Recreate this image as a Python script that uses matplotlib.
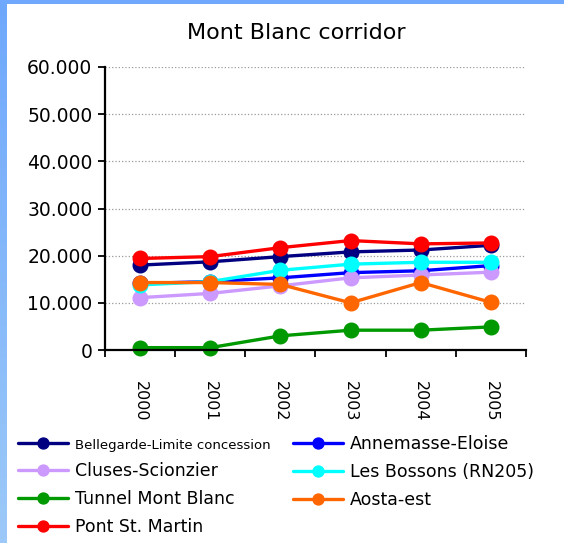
import numpy as np
import matplotlib
matplotlib.use("Agg")
import matplotlib.pyplot as plt
from matplotlib.ticker import FuncFormatter, FixedLocator

years = ["2000", "2001", "2002", "2003", "2004", "2005"]

bellegarde = [18000, 18700, 19800, 20800, 21200, 22200]
annemasse = [14100, 14500, 15300, 16400, 16800, 17900]
cluses = [11100, 12000, 13600, 15300, 15900, 16500]
bossons = [13800, 14500, 16900, 18200, 18600, 18600]
tunnel = [500, 500, 3000, 4200, 4200, 4900]
aosta = [14300, 14300, 13900, 10000, 14300, 10100]
pont = [19400, 19800, 21700, 23200, 22500, 22700]

names = ["Bellegarde-Limite concession", "Annemasse-Eloise", "Cluses-Scionzier",
         "Les Bossons (RN205)", "Tunnel Mont Blanc", "Aosta-est", "Pont St. Martin"]
series = [bellegarde, annemasse, cluses, bossons, tunnel, aosta, pont]
colors = ["#000080", "#0000ff", "#cc99ff", "#00ffff", "#009900", "#ff6600", "#ff0000"]

fig = plt.figure(figsize=(5.64, 5.43), dpi=100)
fig.patch.set_facecolor("white")

# blue frame on left and top
grad = fig.add_axes([0, 0, 7/564, 1])
grad.imshow(np.linspace(0, 1, 100).reshape(-1, 1), aspect="auto",
            cmap=matplotlib.colors.LinearSegmentedColormap.from_list("b", ["#6fa8fc", "#9cc9f8"]))
grad.axis("off")
top = fig.add_axes([0, 1 - 4/543, 1, 4/543])
top.set_facecolor("#6fa8fc")
top.set_xticks([]); top.set_yticks([])
for s in top.spines.values():
    s.set_visible(False)

ax = fig.add_axes([105/564, 1 - 350/543, (526 - 105)/564, (350 - 67)/543])
x = np.arange(len(years))
lines = []
for name, vals, c in zip(names, series, colors):
    ln, = ax.plot(x, vals, color=c, lw=2.4, marker="o", ms=10.5, label=name,
                  solid_capstyle="round", clip_on=False)
    lines.append(ln)

ax.set_xlim(-0.5, len(years) - 0.5)
ax.set_ylim(0, 60000)
ax.set_yticks(np.arange(0, 60001, 10000))
ax.yaxis.set_major_formatter(FuncFormatter(lambda v, p: f"{v:,.0f}".replace(",", ".")))
ax.set_xticks(x)
ax.set_xticklabels(years, rotation=270)
ax.xaxis.set_minor_locator(FixedLocator(np.arange(-0.5, len(years), 1.0)))
ax.tick_params(axis="x", which="major", length=0, pad=22, labelsize=11.5)
ax.tick_params(axis="x", which="minor", length=5, width=1.3, direction="out")
ax.tick_params(axis="y", length=5, width=1.3, labelsize=13.5, pad=4)
ax.grid(axis="y", color="#999999", ls=":", lw=0.9)
ax.set_axisbelow(True)
for side in ["top", "right"]:
    ax.spines[side].set_visible(False)
for side in ["left", "bottom"]:
    ax.spines[side].set_linewidth(1.6)

fig.text(296/564, 1 - 33/543, "Mont Blanc corridor", ha="center", va="center", fontsize=16)

# legend filled row by row as in the original
order = [0, 2, 4, 6, 1, 3, 5]
leg = fig.legend(handles=[lines[i] for i in order], ncol=2, loc="upper left",
                 bbox_to_anchor=(9/564, 1 - 426/543),
                 frameon=False, fontsize=12.5, handlelength=2.9, handletextpad=0.4,
                 columnspacing=1.27, labelspacing=0.58, markerscale=0.75, borderpad=0)
for t in leg.get_texts():
    if t.get_text().startswith("Bellegarde"):
        t.set_fontsize(9.5)

fig.savefig("out.png", dpi=100, facecolor="white")
